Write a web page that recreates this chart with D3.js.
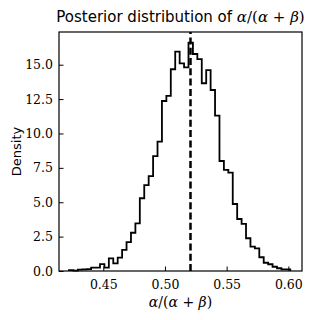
<!DOCTYPE html>
<html>
<head>
<meta charset="UTF-8">
<script src="https://d3js.org/d3.v7.min.js"></script>
<style>
  body { margin: 0; background: #fff; }
  svg { display: block; }
</style>
</head>
<body>
<svg id="chart" width="314" height="320"></svg>
<script>
// histogram (density), 50 equal bins
const binLo = 0.4222;
const binHi = 0.6016;
const density = [
  0.07, 0.03, 0.10, 0.12, 0.14, 0.25, 0.25, 0.50, 0.25, 0.92,
  0.56, 0.97, 1.53, 2.10, 2.78, 3.47, 5.29, 6.25, 6.90, 8.36,
  9.40, 12.36, 12.73, 14.67, 15.95, 15.10, 14.80, 16.60, 15.78, 15.40,
  13.65, 14.60, 13.16, 11.30, 8.00, 7.35, 7.16, 4.87, 3.78, 3.42,
  2.38, 1.77, 1.65, 1.00, 0.60, 0.49, 0.31, 0.20, 0.12, 0.12
];
const meanValue = 0.5207;
const xTicks = [0.45, 0.50, 0.55, 0.60];
const yTicks = [0, 2.5, 5, 7.5, 10, 12.5, 15];

const SERIF = "DejaVu Serif";
const SANS = "DejaVu Sans";

const svg = d3.select("#chart");
const margin = { top: 32, right: 12, bottom: 49, left: 59 };
const width = 314, height = 320;

const x = d3.scaleLinear().domain([0.41408, 0.61111]).range([margin.left, width - margin.right]);
const y = d3.scaleLinear().domain([0, 17.378]).range([height - margin.bottom, margin.top]);

// bin edges
const n = density.length;
const step = (binHi - binLo) / n;
const bins = density.map((d, i) => ({ x0: binLo + i * step, x1: binLo + (i + 1) * step, v: d }));

// step outline like histtype='step'
const pts = [[x(bins[0].x0), y(0)]];
bins.forEach(b => {
  pts.push([x(b.x0), y(b.v)]);
  pts.push([x(b.x1), y(b.v)]);
});
pts.push([x(bins[n - 1].x1), y(0)]);

svg.append("path")
  .attr("d", d3.line()(pts))
  .attr("fill", "none")
  .attr("stroke", "#000")
  .attr("stroke-width", 1.8)
  .attr("stroke-linejoin", "miter");

// mean line
svg.append("line")
  .attr("x1", x(meanValue)).attr("x2", x(meanValue))
  .attr("y1", y(0)).attr("y2", margin.top)
  .attr("stroke", "#000")
  .attr("stroke-width", 2.5)
  .attr("stroke-dasharray", "7,3.3");

// axes, ticks pointing inward
const xAxis = d3.axisBottom(x).tickValues(xTicks).tickFormat(d3.format(".2f")).tickSizeInner(-4.5).tickSizeOuter(0).tickPadding(9);
const yAxis = d3.axisLeft(y).tickValues(yTicks).tickFormat(d3.format(".1f")).tickSizeInner(-4.5).tickSizeOuter(0).tickPadding(6);

const gx = svg.append("g").attr("transform", `translate(0,${height - margin.bottom})`).call(xAxis);
const gy = svg.append("g").attr("transform", `translate(${margin.left},0)`).call(yAxis);
[gx, gy].forEach(g => {
  g.select(".domain").remove();
  g.attr("font-family", SERIF).attr("font-size", 12.5);
  g.selectAll(".tick line").attr("stroke", "#000").attr("stroke-width", 1);
  g.selectAll(".tick text").attr("fill", "#000");
});

// frame
svg.append("rect")
  .attr("x", margin.left).attr("y", margin.top)
  .attr("width", width - margin.right - margin.left)
  .attr("height", height - margin.bottom - margin.top)
  .attr("fill", "none")
  .attr("stroke", "#000")
  .attr("stroke-width", 1.2);

function mathText(sel) {
  const parts = [["α", true], ["/(", false], ["α", true], [" + ", false], ["β", true], [")", false]];
  parts.forEach(([t, it]) => {
    sel.append("tspan")
      .attr("font-family", SERIF)
      .attr("font-style", it ? "italic" : "normal")
      .text(t);
  });
}

// title
const title = svg.append("text")
  .attr("x", (margin.left + width - margin.right) / 2)
  .attr("y", 22)
  .attr("text-anchor", "middle")
  .attr("font-size", 15);
title.append("tspan").attr("font-family", SANS).text("Posterior distribution of ");
mathText(title);

// x label
const xl = svg.append("text")
  .attr("x", (margin.left + width - margin.right) / 2)
  .attr("y", 307)
  .attr("text-anchor", "middle")
  .attr("font-size", 14);
mathText(xl);

// y label
svg.append("text")
  .attr("transform", `translate(21,${(margin.top + height - margin.bottom) / 2}) rotate(-90)`)
  .attr("text-anchor", "middle")
  .attr("font-family", SANS)
  .attr("font-size", 13)
  .text("Density");
</script>
</body>
</html>
